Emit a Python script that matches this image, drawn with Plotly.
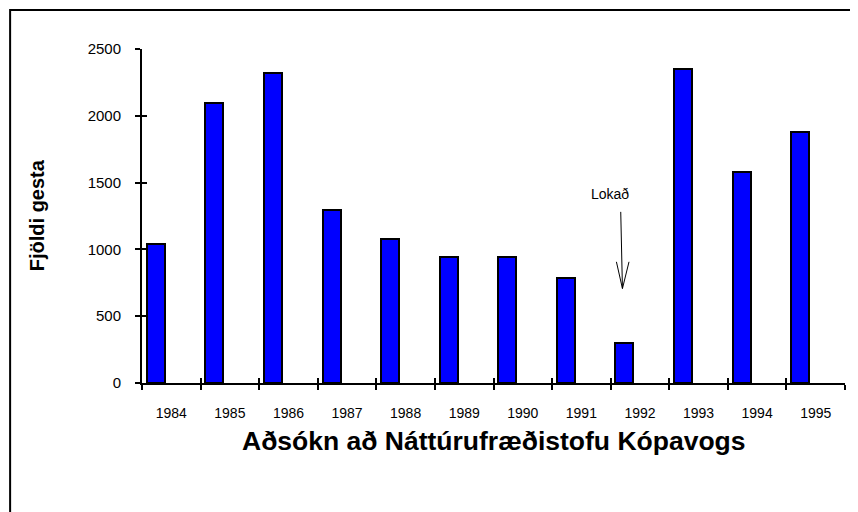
import plotly.graph_objects as go

years = ["1984", "1985", "1986", "1987", "1988", "1989", "1990", "1991", "1992", "1993", "1994", "1995"]
visitors = [1040, 2093, 2323, 1294, 1079, 940, 940, 787, 303, 2348, 1578, 1881]
y_ticks = [0, 500, 1000, 1500, 2000, 2500]

title_text = "Aðsókn að Náttúrufræðistofu Kópavogs"
y_title_text = "Fjöldi gesta"
note_text = "Lokað"

FONT = "Arial, 'Liberation Sans', sans-serif"

fig = go.Figure()
fig.add_trace(go.Bar(
    x=years, y=visitors,
    marker=dict(color="#0000FF", line=dict(color="black", width=2)),
    width=0.307, offset=-0.418,
    showlegend=False, hoverinfo="x+y",
))
# invisible trace carrying overlay axes (for inward tick halves)
fig.add_trace(go.Scatter(
    x=years, y=visitors, xaxis="x2", yaxis="y2",
    mode="markers", marker=dict(opacity=0), showlegend=False, hoverinfo="skip",
))

# page body has an 8px margin, so the figure is drawn 8px smaller and offset
fig.update_layout(
    width=850, height=504,
    margin=dict(l=134, r=13, t=41, b=129),
    paper_bgcolor="white", plot_bgcolor="white",
    font=dict(family=FONT, color="black"),
    bargap=0,
    xaxis=dict(
        type="category", categoryorder="array", categoryarray=years,
        range=[-0.5, 11.5], tickson="boundaries",
        ticks="outside", ticklen=5, tickwidth=2, tickcolor="black",
        showline=True, linecolor="black", linewidth=2,
        showgrid=False, zeroline=False,
        tickfont=dict(size=14, family=FONT, color="black"),
        ticklabelstandoff=16,
    ),
    xaxis2=dict(
        type="category", categoryorder="array", categoryarray=years,
        range=[-0.5, 11.5], tickson="boundaries", overlaying="x",
        ticks="inside", ticklen=5, tickwidth=2, tickcolor="black",
        showticklabels=False, showline=False, showgrid=False, zeroline=False,
    ),
    yaxis=dict(
        range=[0, 2500], tickvals=y_ticks,
        ticks="outside", ticklen=5, tickwidth=2, tickcolor="black",
        showline=True, linecolor="black", linewidth=2,
        showgrid=False, zeroline=False,
        tickfont=dict(size=15, family=FONT, color="black"),
        ticklabelstandoff=11,
    ),
    yaxis2=dict(
        range=[0, 2500], tickvals=y_ticks, overlaying="y", side="left",
        ticks="inside", ticklen=5, tickwidth=2, tickcolor="black",
        showticklabels=False, showline=False, showgrid=False, zeroline=False,
    ),
)

# outer frame (only top and left visible in the reference)
fig.add_shape(type="rect", xref="paper", yref="paper",
              x0=-0.1876, y0=-0.6, x1=1.2, y1=1.1164,
              line=dict(color="black", width=2), fillcolor="rgba(0,0,0,0)", layer="below")

# arrow pointing to 1992
arrow = dict(color="black", width=1)
fig.add_shape(type="line", xref="x", yref="y", x0=7.672, y0=1281, x1=7.701, y1=707, line=arrow)
fig.add_shape(type="line", xref="x", yref="y", x0=7.598, y0=907, x1=7.701, y1=707, line=arrow)
fig.add_shape(type="line", xref="x", yref="y", x0=7.813, y0=907, x1=7.701, y1=707, line=arrow)

fig.add_annotation(x=7.496, y=1414, xref="x", yref="y", text=note_text, showarrow=False,
                   font=dict(size=14, family=FONT, color="black"), xanchor="center", yanchor="middle")

fig.add_annotation(x=0.5, y=-0.174, xref="paper", yref="paper", text="<b>" + title_text + "</b>",
                   showarrow=False, font=dict(size=26.5, family=FONT, color="black"),
                   xanchor="center", yanchor="middle")

fig.add_annotation(x=-0.149, y=0.503, xref="paper", yref="paper", text="<b>" + y_title_text + "</b>",
                   showarrow=False, textangle=-90, font=dict(size=20, family=FONT, color="black"),
                   xanchor="center", yanchor="middle")

fig.write_html("out.html")
